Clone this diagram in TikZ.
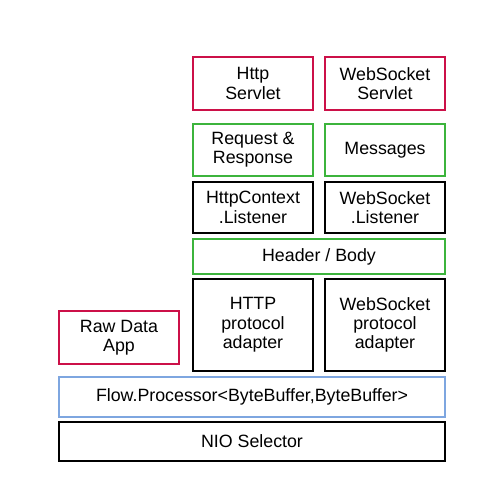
\documentclass[tikz,border=0pt]{standalone}
\usepackage{fontspec}
\setmainfont{Liberation Sans}
\definecolor{boxred}{RGB}{204,16,72}
\definecolor{boxgreen}{RGB}{60,180,60}
\definecolor{boxblue}{RGB}{126,166,224}
\tikzset{
  layer/.style={draw, line width=1.7pt, inner sep=0pt, outer sep=0pt, align=center,
    font=\fontsize{17.8}{19.3}\selectfont, text=black},
  redbox/.style={layer, draw=boxred},
  greenbox/.style={layer, draw=boxgreen},
  bluebox/.style={layer, draw=boxblue},
  blackbox/.style={layer, draw=black},
}
\begin{document}
\begin{tikzpicture}[x=1pt,y=-1pt]
\useasboundingbox (0,0) rectangle (480,480);
\node[redbox, minimum width=120pt, minimum height=53pt] (hs) at (253,83.5) {Http\\Servlet};
\node[redbox, minimum width=120pt, minimum height=53pt] (wss) at (385,83.5) {WebSocket\\Servlet};
\node[greenbox, minimum width=120pt, minimum height=52pt] (rr) at (253,150) {Request \&\\Response};
\node[greenbox, minimum width=120pt, minimum height=52pt] (msg) at (385,150) {Messages};
\node[blackbox, minimum width=120pt, minimum height=51pt] (hcl) at (253,207.5) {HttpContext\\.Listener};
\node[blackbox, minimum width=120pt, minimum height=51pt] (wsl) at (385,207.5) {WebSocket\\.Listener};
\node[greenbox, minimum width=252pt, minimum height=35pt] (hb) at (319,256.5) {Header / Body};
\node[blackbox, minimum width=120pt, minimum height=92pt] (hpa) at (253,325) {HTTP\\protocol\\adapter};
\node[blackbox, minimum width=120pt, minimum height=92pt] (wpa) at (385,325) {WebSocket\\protocol\\adapter};
\node[redbox, minimum width=120pt, minimum height=53pt] (raw) at (119,337.5) {Raw Data\\App};
\node[bluebox, minimum width=386pt, minimum height=40pt] (flow) at (252,397) {Flow.Processor<ByteBuffer,ByteBuffer>};
\node[blackbox, minimum width=386pt, minimum height=39pt] (nio) at (252,441.5) {NIO Selector};
\end{tikzpicture}
\end{document}
